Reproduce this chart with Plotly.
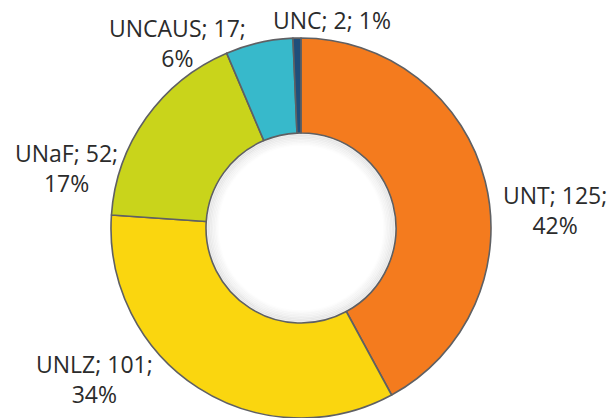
import plotly.graph_objects as go

labels = ["UNT", "UNLZ", "UNaF", "UNCAUS", "UNC"]
values = [125, 101, 52, 17, 2]
pct_labels = ["42%", "34%", "17%", "6%", "1%"]
colors = ["#F47B1E", "#FAD60F", "#C9D41B", "#37B9CB", "#1F4E7A"]

# label block centres (px) and line-break choice (layout only)
label_pos = [(555, 210), (94, 379), (66, 168), (177, 43), (332, 20)]
label_wrap = [True, True, True, True, False]

W, H = 614, 418
HOLE = 0.5
DOM_X = [111 / W, 491 / W]
DOM_Y = [0, 380 / H]

fig = go.Figure(go.Pie(
    labels=labels, values=values,
    hole=HOLE, sort=False, direction="clockwise", rotation=0,
    marker=dict(colors=colors, line=dict(color="#5f6063", width=1.6)),
    textinfo="none", hoverinfo="label+value+percent",
    domain=dict(x=DOM_X, y=DOM_Y),
    automargin=False, showlegend=False,
))

# soft inner shadow along the hole edge (decoration)
cx = (DOM_X[0] + DOM_X[1]) / 2 * W
cy = (1 - (DOM_Y[0] + DOM_Y[1]) / 2) * H
R = min((DOM_X[1] - DOM_X[0]) * W, (DOM_Y[1] - DOM_Y[0]) * H) / 2
r_in = R * HOLE
for i in range(8):
    r = r_in - 1.5 - i * 1.5
    fig.add_shape(type="circle", xref="paper", yref="paper",
                  x0=(cx - r) / W, x1=(cx + r) / W,
                  y0=1 - (cy + r) / H, y1=1 - (cy - r) / H,
                  line=dict(color=f"rgba(0,0,0,{0.07 * (1 - i / 8):.3f})", width=2),
                  layer="above")

for lab, val, pct, (px, py), wrap in zip(labels, values, pct_labels, label_pos, label_wrap):
    sep = "<br>" if wrap else " "
    fig.add_annotation(
        x=px / W, y=1 - py / H, xref="paper", yref="paper",
        text=f"{lab}; {val};{sep}{pct}", showarrow=False,
        xanchor="center", yanchor="middle", align="center",
        font=dict(family="Open Sans", size=23, color="#2b2b2b"),
    )

fig.update_layout(width=W, height=H, margin=dict(l=0, r=0, t=0, b=0),
                  paper_bgcolor="white", plot_bgcolor="white")
fig.write_html("out.html", config={"displayModeBar": False},
               post_script="document.body.style.margin='0';document.body.style.overflow='hidden';")
